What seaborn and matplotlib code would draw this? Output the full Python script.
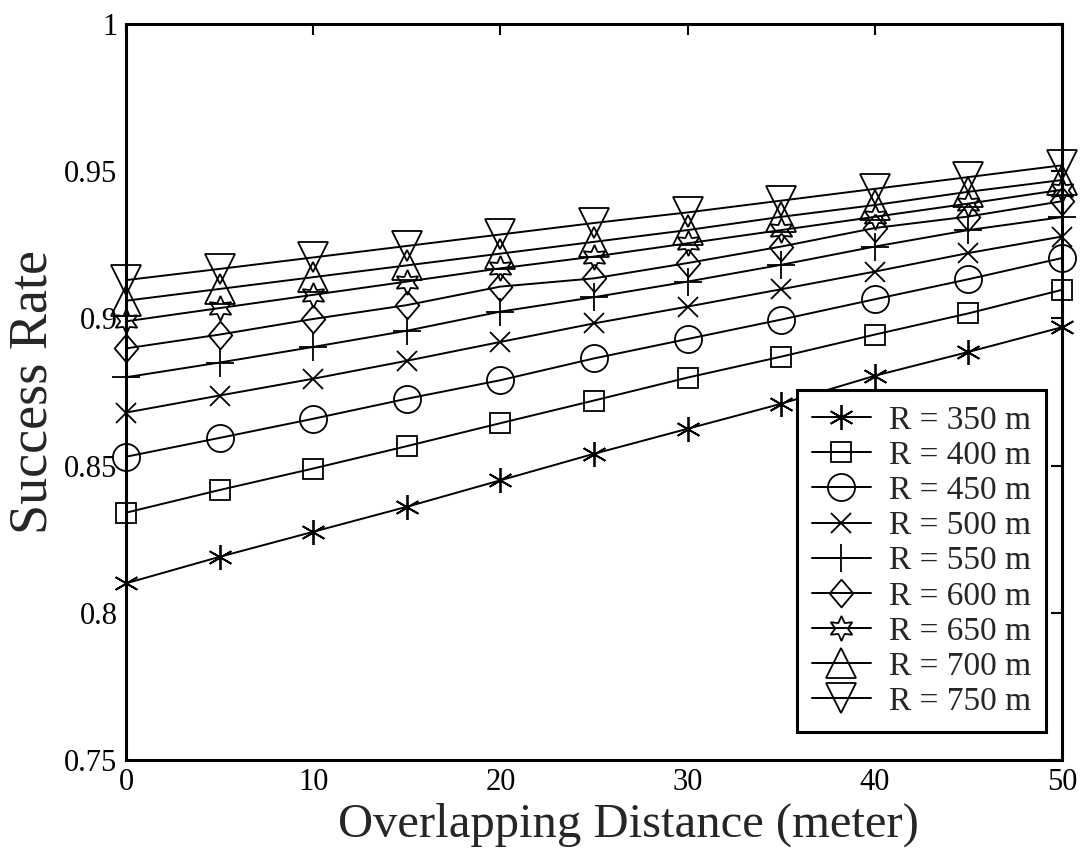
import matplotlib
matplotlib.use("Agg")
import matplotlib.pyplot as plt
import seaborn as sns
import numpy as np
import pandas as pd

# ---- data ----
distance = [0, 5, 10, 15, 20, 25, 30, 35, 40, 45, 50]
labels = ["R = 350 m", "R = 400 m", "R = 450 m", "R = 500 m", "R = 550 m",
          "R = 600 m", "R = 650 m", "R = 700 m", "R = 750 m"]
r350 = [0.810, 0.819, 0.8275, 0.836, 0.845, 0.854, 0.8625, 0.871, 0.8805, 0.8886, 0.897]
r400 = [0.834, 0.8417, 0.849, 0.8566, 0.8644, 0.8721, 0.8799, 0.887, 0.8945, 0.9017, 0.9097]
r450 = [0.853, 0.8594, 0.8659, 0.8727, 0.879, 0.8864, 0.893, 0.8996, 0.9065, 0.9133, 0.9205]
r500 = [0.868, 0.8738, 0.8795, 0.8856, 0.892, 0.8983, 0.904, 0.9099, 0.9159, 0.9222, 0.9278]
r550 = [0.880, 0.885, 0.8903, 0.8958, 0.9023, 0.9072, 0.9125, 0.9182, 0.9244, 0.930, 0.9344]
r600 = [0.8898, 0.8945, 0.8998, 0.9045, 0.9108, 0.9136, 0.9188, 0.9244, 0.9307, 0.9346, 0.9398]
r650 = [0.899, 0.9035, 0.908, 0.9125, 0.917, 0.921, 0.9255, 0.930, 0.9345, 0.939, 0.9437]
r700 = [0.906, 0.910, 0.914, 0.918, 0.922, 0.926, 0.930, 0.9345, 0.9385, 0.943, 0.947]
r750 = [0.913, 0.9168, 0.9207, 0.9246, 0.9285, 0.9324, 0.936, 0.940, 0.944, 0.948, 0.952]
series = [r350, r400, r450, r500, r550, r600, r650, r700, r750]
xticks = [0, 10, 20, 30, 40, 50]
yticks = [0.75, 0.8, 0.85, 0.9, 0.95, 1.0]
ytick_labels = ["0.75", "0.8", "0.85", "0.9", "0.95", "1"]

# ---- styles ----
diamond = [(0, 1), (0.85, 0), (0, -1), (-0.85, 0), (0, 1)]
markers = [(6, 2, 0), "s", "o", "x", "+", diamond, (6, 1, 0), "^", "v"]
msizes = [18, 14.5, 19.5, 14, 20, 20, 18, 22, 22]

sns.set_style("white")
plt.rcParams["font.family"] = ["Liberation Serif", "DejaVu Serif"]

fig = plt.figure(figsize=(10.83, 8.48), dpi=100)
ax = fig.add_axes([0.1163, 0.1038, 0.9806 - 0.1163, 0.9717 - 0.1038])

rows = []
for lab, vals in zip(labels, series):
    for d, v in zip(distance, vals):
        rows.append({"distance": d, "rate": v, "R": lab})
df = pd.DataFrame(rows)

for lab, mk, ms in zip(labels, markers, msizes):
    sub = df[df["R"] == lab]
    sns.lineplot(data=sub, x="distance", y="rate", ax=ax, color="black",
                 linewidth=1.4, marker=mk, markersize=ms, markerfacecolor="none",
                 markeredgecolor="black", markeredgewidth=1.3, label=lab,
                 clip_on=False, zorder=3)

ax.set_xlim(0, 50)
ax.set_ylim(0.75, 1.0)
ax.set_xticks(xticks)
ax.set_yticks(yticks)
ax.set_yticklabels(ytick_labels)
ax.tick_params(direction="in", top=True, right=True, length=8, width=1.5,
               labelsize=22, colors="black", pad=6)
ax.tick_params(axis="x", pad=6)
for sp in ax.spines.values():
    sp.set_linewidth(2.2)
    sp.set_color("black")
    sp.set_visible(True)

ax.set_xlabel("Overlapping Distance (meter)", fontsize=35)
ax.xaxis.set_label_coords(0.537, -0.104, transform=ax.transAxes)
ax.xaxis.label.set_verticalalignment("baseline")
ax.set_ylabel("Success Rate", fontsize=39, labelpad=4)

leg = ax.legend(loc="lower right", bbox_to_anchor=(0.983, 0.038), borderaxespad=0,
                fontsize=24, frameon=True, fancybox=False, framealpha=1,
                edgecolor="black", handlelength=1.75, handletextpad=0.55,
                labelspacing=0.14, borderpad=0.45)
leg.get_frame().set_linewidth(2.2)

fig.savefig("out.png", dpi=100)
